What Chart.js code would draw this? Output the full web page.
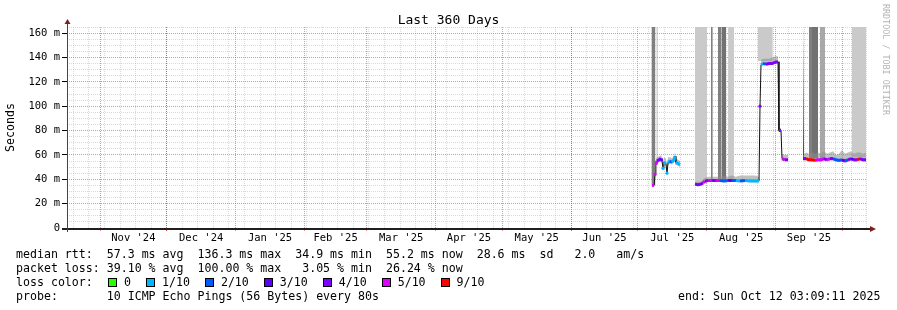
<!DOCTYPE html>
<html><head><meta charset="utf-8">
<script src="https://cdn.jsdelivr.net/npm/chart.js@4.4.1/dist/chart.umd.min.js"></script>
<style>
html,body{margin:0;padding:0;background:#fff;}
#wrap{position:relative;width:897px;height:310px;overflow:hidden;font-family:"DejaVu Sans Mono",monospace;color:#000;background:#fff;}
#c{position:absolute;left:0;top:0;}
.t{position:absolute;white-space:pre;font-size:11.6px;line-height:14px;}
#title{position:absolute;left:0;width:897px;text-align:center;top:12px;font-size:13px;line-height:16px;}
#wm{position:absolute;left:881px;top:4px;writing-mode:vertical-rl;font-size:8.4px;color:#b4b4b4;white-space:pre;}
#lossrow{position:absolute;left:108px;top:275px;display:flex;align-items:center;height:14px;}
.sq{width:7px;height:7px;border:1px solid #000;margin-right:7px;}
.lb{font-size:11.6px;line-height:14px;margin-right:15px;white-space:pre;}
</style></head>
<body>
<div id="wrap">
<canvas id="c" width="897" height="310"></canvas>
<div id="title">Last 360 Days</div>
<div id="wm">RRDTOOL / TOBI OETIKER</div>
<div class="t" id="l1" style="left:16px;top:247px;"></div>
<div class="t" id="l2" style="left:16px;top:261px;"></div>
<div class="t" id="l3" style="left:16px;top:275px;"></div>
<div id="lossrow"></div>
<div class="t" id="l4" style="left:16px;top:289px;"></div>
<div class="t" id="l5" style="left:678px;top:289px;"></div>
</div>
<script>
// ---- data (x in days since start of the 360-day window, y in ms) ----
const medDays = [263.25,264.2,264.6,265,265.5,266.4,267.3,267.75,268.2,268.6,269.5,270,270.5,271.3,272.2,273.2,273.6,274,275,275.85,
  278,
  282.6,283.9,285.3,286.2,287.1,288.5,290.3,292,293.9,295.7,297.5,299.2,301,302.9,305.1,307.4,309.6,311.4,311.85,312.3,313.2,314.5,315.9,317.2,318.6,319.95,320.4,321.3,321.75,323.1,324.45,
  327,
  331.2,332.6,333.9,335.25,336.6,337.95,339.3,340.65,342,343.35,344.7,346.05,347.4,348.75,350.1,351.45,352.8,354.15,355.5,356.85,358.2,359.55];
const medVals = [35,35,44,52,55,56,57,55,49,54,53,45,54,55,54,56,59,54,53,52,
  null,
  36,35.5,36,37,38.5,39,39,39,39,38.5,39,39,39,38.5,39,38.5,38.5,38.5,100,134,135,134.5,135,135,136,136.5,80,80,57,56,56,
  null,
  57,57,56,56,55.5,56,56,57,56,57,57,56,55.5,56,55,56,57,56,56,57,56,56];
const medLoss = [5,5,5,5,5,4,4,3,1,1,1,1,1,1,2,1,1,1,1,1,
  0,
  4,4,4,4,5,4,5,4,5,2,2,3,2,1,2,1,1,1,4,4,1,2,4,4,4,4,4,4,4,5,4,
  0,
  5,4,9,9,9,5,5,5,4,5,4,2,2,2,3,2,4,3,4,9,4,4];
const smokeHi = [37,38,48,56,58,59,60,58,55,58,57,52,58,58,57,59,62,57,56,55,
  null,
  38,38,38,40,41,42,42,42,42,43,42,43,42,43,43,43,43,42,100,138,139,139,139,140,141,141,82,82,61,60,60,
  null,
  60,62,61,62,61,62,61,63,61,62,63,60,61,64,61,62,63,61,62,62,61,62];
const smokeLo = [34,34,40,50,53,54,55,53,46,52,51,44,52,53,52,54,55,52,51,50,
  null,
  35,34.5,35,36,37,38,38,38,38,37.5,38,38,38,37.5,38,37.5,37.5,37.5,99,133,134,133.5,134,134,135,135,79,79,55,55,55,
  null,
  55.5,55.5,54.5,54.5,54,54.5,54.5,55.5,54.5,55.5,55.5,54.5,54,54.5,53.5,54.5,55.5,54.5,54.5,55.5,54.5,54.5];
// full-height smoke / loss bands
const bandStart = [263.0,265.3,282.6,289.8,292.9,294.6,297.5,310.8,331.2,333.9,335.25,338.85,353.25];
const bandEnd   = [264.8,265.75,288.0,290.6,294.6,296.6,300.2,317.6,331.6,335.25,337.95,341.1,359.6];
const bandLow   = [35,52,37,39,39,39,39,137,57,57,57,57,58];
const bandShade = ['dark','dark','light','dark','dark','darker','light','light','black','dark','darker','mid','light'];
// axis ticks
const monthStartDays = [14.87,44.87,75.87,106.87,134.87,165.87,195.87,226.87,256.87,287.87,318.87,348.87];
const monthLabelDays = [29.87,60.37,91.37,120.87,150.37,180.87,211.37,241.87,272.37,303.37,333.87];
const monthLabels = ["Nov '24","Dec '24","Jan '25","Feb '25","Mar '25","Apr '25","May '25","Jun '25","Jul '25","Aug '25","Sep '25"];
const firstWeekDay = 2.87;
const yMax = 165;
// legend / stats text
const statLines = [
  "median rtt:  57.3 ms avg  136.3 ms max  34.9 ms min  55.2 ms now  28.6 ms  sd   2.0   am/s",
  "packet loss: 39.10 % avg  100.00 % max   3.05 % min  26.24 % now",
  "loss color:",
  "probe:       10 ICMP Echo Pings (56 Bytes) every 80s"
];
const endText = "end: Sun Oct 12 03:09:11 2025";
const lossKeys = [0,1,2,3,4,5,9];
const lossLabels = ["0","1/10","2/10","3/10","4/10","5/10","9/10"];

// ---- styles ----
const lossColors = {0:'#26ff00',1:'#00b8ff',2:'#0059ff',3:'#5e00ff',4:'#7e00ff',5:'#dd00ff',9:'#ff0000'};
const shadeColors = {black:'#2a2a2a',dark:'#808080',darker:'#727272',mid:'#a8a8a8',light:'#cacaca'};
const MONO = '"DejaVu Sans Mono", monospace';
const MAJOR = 'rgba(255,40,40,0.55)';
const MINOR = 'rgba(160,160,160,0.4)';

document.getElementById('l1').textContent = statLines[0];
document.getElementById('l2').textContent = statLines[1];
document.getElementById('l3').textContent = statLines[2];
document.getElementById('l4').textContent = statLines[3];
document.getElementById('l5').textContent = endText;
const row = document.getElementById('lossrow');
lossKeys.forEach((k,i)=>{
  const s=document.createElement('div'); s.className='sq'; s.style.background=lossColors[k]; row.appendChild(s);
  const l=document.createElement('div'); l.className='lb'; l.textContent=lossLabels[i]; row.appendChild(l);
});

const key = v => (Math.round(v*100)/100).toFixed(2);
const monthStartSet = new Set(monthStartDays.map(key));
const labelMap = {}; monthLabelDays.forEach((d,i)=>labelMap[key(d)] = monthLabels[i]);
const weekDays = []; for (let d = firstWeekDay; d < 360; d += 7) weekDays.push(d);
const weekSet = new Set(weekDays.map(key));

const datasets = [];
datasets.push({
  type:'line', order:1,
  data: medDays.map((d,i)=>({x:d,y:medVals[i]})),
  borderWidth:3, borderColor:'#7e00ff', spanGaps:false, fill:false,
  borderJoinStyle:'round',
  pointRadius: ctx => {
    const i=ctx.dataIndex, v=medVals[i]; if (v==null) return 0;
    const p=medVals[i-1], n=medVals[i+1];
    const l = p==null || Math.abs(p-v)>4, r = n==null || Math.abs(n-v)>4;
    return (l&&r)?1.6:0;
  },
  pointBorderWidth:0,
  pointBackgroundColor: ctx => lossColors[medLoss[ctx.dataIndex]] || '#000',
  segment:{ borderColor: ctx => {
    const a=ctx.p0.parsed.y, b=ctx.p1.parsed.y;
    if (Math.abs(a-b) > 4) return 'rgba(0,0,0,0)';
    return lossColors[medLoss[ctx.p1DataIndex]];
  }}
});
datasets.push({
  type:'line', order:2,
  data: medDays.map((d,i)=>({x:d,y:medVals[i]})),
  borderWidth:1, borderColor:'#111', pointRadius:0, spanGaps:false, fill:false
});
datasets.push({
  type:'line', order:4,
  data: medDays.map((d,i)=>({x:d,y:smokeHi[i]})),
  borderWidth:0, borderColor:'rgba(0,0,0,0)', pointRadius:0, spanGaps:false,
  fill:'+1', backgroundColor:'rgba(140,140,140,0.55)'
});
datasets.push({
  type:'line', order:5,
  data: medDays.map((d,i)=>({x:d,y:smokeLo[i]})),
  borderWidth:0, borderColor:'rgba(0,0,0,0)', pointRadius:0, spanGaps:false, fill:false
});
bandStart.forEach((s,i)=>{
  datasets.push({
    type:'line', order:10,
    data:[{x:s,y:yMax},{x:bandEnd[i],y:yMax}],
    borderWidth:0, borderColor:'rgba(0,0,0,0)', pointRadius:0,
    fill:{value:bandLow[i]}, backgroundColor:shadeColors[bandShade[i]]
  });
});

const axesPlugin = {
  id:'axesDraw',
  afterDraw(chart){
    const {ctx, chartArea:{left,right,top,bottom}} = chart;
    ctx.save();
    ctx.fillStyle='#1f1f1f';
    ctx.fillRect(left-5, bottom, right-left+9, 2);
    ctx.fillStyle='#444';
    ctx.fillRect(left, top-4, 1, bottom-top+8);
    ctx.fillStyle='#801f1f';
    ctx.beginPath(); ctx.moveTo(left+0.5, top-8); ctx.lineTo(left-2.5, top-3); ctx.lineTo(left+3.5, top-3); ctx.closePath(); ctx.fill();
    ctx.beginPath(); ctx.moveTo(right+9, bottom+1); ctx.lineTo(right+3, bottom-2); ctx.lineTo(right+3, bottom+4); ctx.closePath(); ctx.fill();
    ctx.restore();
  }
};

new Chart(document.getElementById('c'), {
  data:{datasets},
  plugins:[axesPlugin],
  options:{
    responsive:false, animation:false, devicePixelRatio:1,
    layout:{padding:{top:27,right:30,left:0,bottom:0}},
    plugins:{legend:{display:false}, tooltip:{enabled:false}, title:{display:false}},
    scales:{
      x:{
        type:'linear', min:0, max:360,
        afterFit: s => { s.height = 310-228; },
        afterBuildTicks: s => {
          const vals = [...monthStartDays, ...weekDays, ...monthLabelDays].sort((a,b)=>a-b);
          s.ticks = vals.map(v=>({value:v}));
        },
        border:{display:false, dash:[1,1]},
        grid:{
          color: c => { if(!c.tick) return 'rgba(0,0,0,0)'; const k=key(c.tick.value);
            if (monthStartSet.has(k)) return MAJOR;
            if (weekSet.has(k)) return MINOR;
            return 'rgba(0,0,0,0)'; },
          tickColor: c => (c.tick && monthStartSet.has(key(c.tick.value))) ? MAJOR : 'rgba(0,0,0,0)',
          tickLength:3, tickBorderDash:[], lineWidth:1
        },
        ticks:{
          autoSkip:false, maxRotation:0, minRotation:0, padding:1,
          font:{family:MONO, size:10.5}, color:'#000',
          callback: v => labelMap[key(v)] || ''
        }
      },
      y:{
        type:'linear', min:0, max:yMax,
        afterFit: s => { s.width = 67; },
        afterBuildTicks: s => { const t=[]; for(let v=0; v<=yMax; v+=5) t.push({value:v}); s.ticks=t; },
        border:{display:false, dash:[1,1]},
        title:{display:true, text:'Seconds', font:{family:MONO, size:11.6}, color:'#000', padding:{top:4,bottom:0}},
        grid:{
          color: c => { if(!c.tick) return 'rgba(0,0,0,0)'; const v=c.tick.value;
            if (v===0) return 'rgba(0,0,0,0)';
            return (v%20===0) ? MAJOR : MINOR; },
          tickColor: c => (c.tick && c.tick.value%20===0) ? '#000' : 'rgba(0,0,0,0)',
          tickLength:5, tickBorderDash:[], lineWidth:1
        },
        ticks:{
          autoSkip:false, padding:2, font:{family:MONO, size:10.5}, color:'#000',
          callback: v => v===0 ? '0' : (v%20===0 ? v+' m' : '')
        }
      }
    }
  }
});
</script>
</body></html>
